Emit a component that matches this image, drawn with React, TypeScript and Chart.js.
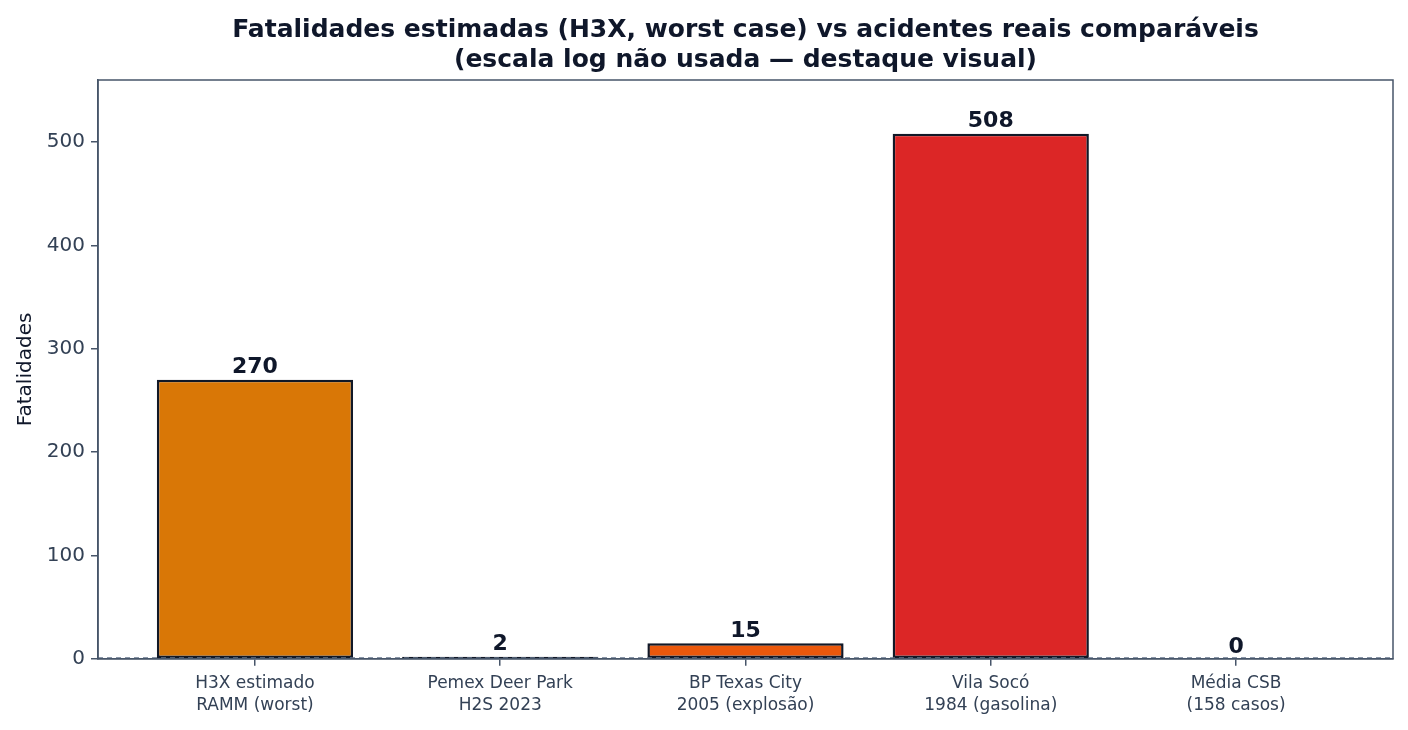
import React, { useEffect, useRef } from 'react';
import { Chart, registerables } from 'chart.js';

Chart.register(...registerables);

const categories = [
  ['H3X estimado', 'RAMM (worst)'],
  ['Pemex Deer Park', 'H2S 2023'],
  ['BP Texas City', '2005 (explosão)'],
  ['Vila Socó', '1984 (gasolina)'],
  ['Média CSB', '(158 casos)'],
];
const fatalities = [270, 2, 15, 508, 0];
const barColors = ['#d97706', '#475569', '#ea580c', '#dc2626', '#64748b'];
const yTicks = [0, 100, 200, 300, 400, 500];

const FONT = "'DejaVu Sans', sans-serif";

const frameAndLabels = {
  id: 'frameAndLabels',
  afterDatasetsDraw(chart: any) {
    const { ctx, chartArea, scales } = chart;
    const y0 = scales.y.getPixelForValue(0) - 1;
    ctx.save();
    // dashed zero line
    ctx.strokeStyle = '#64748b';
    ctx.lineWidth = 1.3;
    ctx.setLineDash([5, 4]);
    ctx.beginPath();
    ctx.moveTo(chartArea.left, y0);
    ctx.lineTo(chartArea.right, y0);
    ctx.stroke();
    ctx.setLineDash([]);
    // box
    ctx.strokeStyle = '#475569';
    ctx.lineWidth = 1.5;
    ctx.strokeRect(chartArea.left, chartArea.top, chartArea.right - chartArea.left, chartArea.bottom - chartArea.top);
    // value labels
    ctx.fillStyle = '#0f172a';
    ctx.font = `bold 22px ${FONT}`;
    ctx.textAlign = 'center';
    ctx.textBaseline = 'bottom';
    chart.getDatasetMeta(0).data.forEach((bar: any, i: number) => {
      ctx.fillText(String(fatalities[i]), bar.x, bar.y - 1);
    });
    ctx.restore();
  },
};

const BarChart: React.FC = () => {
  const canvasRef = useRef<HTMLCanvasElement>(null);
  const chartRef = useRef<Chart | null>(null);

  useEffect(() => {
    document.body.style.margin = '0';
    if (!canvasRef.current) return;
    const ctx = canvasRef.current.getContext('2d');
    if (!ctx) return;
    if (chartRef.current) chartRef.current.destroy();

    chartRef.current = new Chart(ctx, {
      type: 'bar',
      data: {
        datasets: [
          {
            data: fatalities.map((v, i) => ({ x: i, y: v })),
            backgroundColor: barColors,
            borderColor: '#111827',
            borderWidth: 2.5,
            borderSkipped: false,
            barPercentage: 0.8,
            categoryPercentage: 1,
          },
        ],
      },
      plugins: [frameAndLabels],
      options: {
        animation: false,
        responsive: false,
        maintainAspectRatio: false,
        layout: { padding: { top: 0, right: 15, bottom: 6, left: 10 } },
        plugins: {
          legend: { display: false },
          tooltip: { enabled: false },
          title: {
            display: true,
            fullSize: false,
            text: [
              'Fatalidades estimadas (H3X, worst case) vs acidentes reais comparáveis',
              '(escala log não usada — destaque visual)',
            ],
            color: '#0f172a',
            font: { family: FONT, size: 25, weight: 'bold', lineHeight: 1.22 },
            padding: { top: 15, bottom: 4 },
          },
        },
        scales: {
          x: {
            type: 'linear',
            min: -0.64,
            max: 4.64,
            offset: false,
            afterBuildTicks: (axis: any) => {
              axis.ticks = categories.map((_, i) => ({ value: i }));
            },
            ticks: {
              color: '#334155',
              font: { family: FONT, size: 17, lineHeight: 1.3 },
              padding: 7,
              maxRotation: 0,
              autoSkip: false,
              callback: (v: any) => categories[v as number],
            },
            grid: {
              display: true,
              offset: false,
              drawOnChartArea: false,
              drawTicks: true,
              tickLength: 7,
              color: '#475569',
              lineWidth: 1.5,
            },
            border: { display: true, color: '#475569', width: 1.5 },
          },
          y: {
            min: 0,
            max: 560,
            afterBuildTicks: (axis: any) => {
              axis.ticks = yTicks.map((v) => ({ value: v }));
            },
            afterFit: (axis: any) => {
              axis.width = 88;
            },
            title: {
              display: true,
              text: 'Fatalidades',
              color: '#0f172a',
              font: { family: FONT, size: 20 },
              padding: { bottom: 4 },
            },
            ticks: {
              color: '#334155',
              font: { family: FONT, size: 20 },
              padding: 6,
            },
            grid: {
              display: true,
              drawOnChartArea: false,
              drawTicks: true,
              tickLength: 7,
              color: '#475569',
              lineWidth: 1.5,
            },
            border: { display: true, color: '#475569', width: 1.5 },
          },
        },
      },
    } as any);

    return () => {
      if (chartRef.current) {
        chartRef.current.destroy();
        chartRef.current = null;
      }
    };
  }, []);

  return (
    <div style={{ width: 1408, height: 730, background: '#ffffff' }}>
      <canvas ref={canvasRef} width={1408} height={730} />
    </div>
  );
};

export default function App() {
  return <BarChart />;
}
